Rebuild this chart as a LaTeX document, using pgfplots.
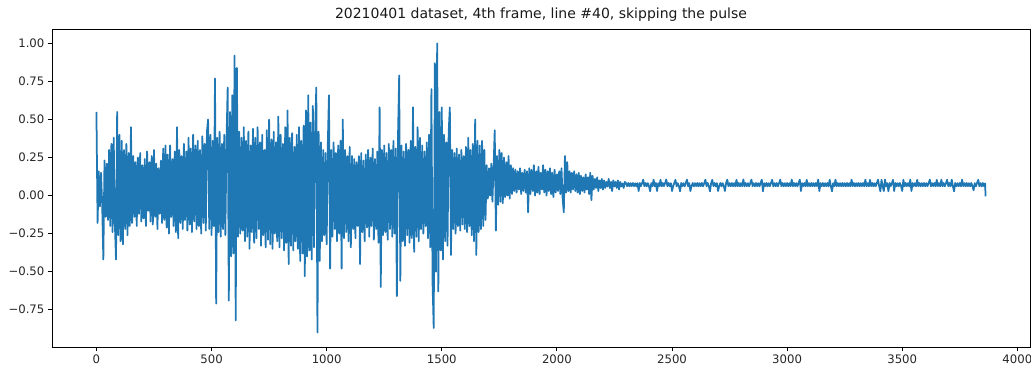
\documentclass[border=0pt]{standalone}
\usepackage{pgfplots}
\pgfplotsset{compat=1.18}
\usepackage{fontspec}
\setmainfont{DejaVu Sans}
\definecolor{tabblue}{HTML}{1F77B4}
\begin{document}
\begin{tikzpicture}
\begin{axis}[
  scale only axis, width=978bp, height=318bp,
  xmin=-193, xmax=4055, ymin=-0.995, ymax=1.095,
  xtick={0,500,1000,1500,2000,2500,3000,3500,4000},
  xticklabels={0,500,1000,1500,2000,2500,3000,3500,4000},
  ytick={-0.75,-0.5,-0.25,0,0.25,0.5,0.75,1},
  yticklabels={−0.75,−0.50,−0.25,0.00,0.25,0.50,0.75,1.00},
  tick align=outside, tick pos=left, major tick length=4.1bp,
  axis line style={line width=0.94bp},
  tick style={line width=0.94bp, black},
  ticklabel style={font=\fontsize{11.7bp}{14bp}\selectfont, text=black!85},
  title={20210401 dataset, 4th frame, line \#40, skipping the pulse},
  title style={font=\fontsize{14bp}{16bp}\selectfont, inner sep=0pt, text=black!90, yshift=1bp},
]
\addplot[color=tabblue, line width=1.75bp, line join=round] table {
0 0.55
5 -0.18
10 0.16
15 -0.07
20 0.15
25 -0.06
30 -0.42
35 0.23
40 -0.14
45 0.21
50 -0.16
55 0.30
60 -0.20
65 0.34
70 -0.24
75 0.38
80 -0.18
85 -0.42
90 0.55
95 -0.26
100 0.40
105 -0.30
110 0.36
115 -0.32
120 0.30
125 -0.22
130 0.34
135 -0.26
140 0.28
145 -0.20
150 0.45
155 -0.18
160 0.26
165 -0.14
170 0.22
175 -0.20
180 0.25
185 -0.12
190 0.28
195 -0.17
200 0.20
205 -0.15
210 0.24
215 -0.20
220 0.29
225 -0.10
230 0.22
235 -0.17
240 0.26
245 -0.19
250 0.30
255 -0.14
260 0.21
265 -0.22
270 0.18
275 -0.12
280 0.23
285 -0.18
290 0.31
295 -0.16
300 0.33
305 -0.21
310 0.27
315 -0.25
320 0.33
325 -0.14
330 0.24
335 -0.20
340 0.29
345 -0.24
350 0.45
355 -0.28
360 0.30
365 -0.18
370 0.26
375 -0.22
380 0.34
385 -0.16
390 0.29
395 -0.23
400 0.38
405 -0.19
410 0.31
415 -0.24
420 0.40
425 -0.17
430 0.33
435 -0.22
440 0.36
445 -0.20
450 0.30
455 -0.25
460 0.39
465 -0.18
470 0.34
475 -0.23
480 0.42
485 0.50
490 -0.22
495 0.40
500 -0.26
505 0.36
510 -0.20
515 0.77
520 -0.71
525 0.38
530 -0.24
535 0.42
540 -0.27
545 0.34
550 -0.22
555 0.40
560 -0.26
565 0.36
570 0.71
575 -0.69
580 0.55
585 -0.40
590 0.66
595 -0.38
600 0.92
605 -0.82
610 0.84
615 -0.27
620 0.42
625 -0.25
630 0.38
635 -0.23
640 0.45
645 -0.30
650 0.36
655 -0.27
660 0.42
665 -0.35
670 0.33
675 -0.24
680 0.44
685 -0.31
690 0.38
695 -0.28
700 0.45
705 -0.22
710 0.35
715 -0.33
720 0.40
725 -0.26
730 0.30
735 -0.34
740 0.43
745 -0.29
750 0.50
755 -0.32
760 0.37
765 -0.35
770 0.42
775 -0.25
780 0.35
785 -0.30
790 0.52
795 -0.34
800 0.40
805 -0.28
810 0.34
815 -0.36
820 0.45
825 -0.31
830 0.56
835 -0.45
840 0.38
845 -0.33
850 0.41
855 -0.36
860 0.32
865 -0.30
870 0.40
875 -0.35
880 0.45
885 -0.43
890 0.36
895 -0.38
900 0.46
905 -0.53
910 0.56
915 -0.40
920 0.66
925 -0.36
930 0.48
935 -0.42
940 0.59
945 -0.34
950 0.44
955 0.71
960 -0.90
965 0.42
970 -0.43
975 0.35
980 -0.30
985 0.30
990 -0.26
995 0.28
1000 -0.32
1005 0.34
1010 0.66
1015 -0.48
1020 0.30
1025 -0.27
1030 0.35
1035 -0.22
1040 0.28
1045 -0.30
1050 0.33
1055 -0.25
1060 0.36
1065 -0.48
1070 0.50
1075 -0.28
1080 0.30
1085 -0.24
1090 0.26
1095 -0.30
1100 0.32
1105 -0.34
1110 0.26
1115 -0.22
1120 0.24
1125 -0.28
1130 0.22
1135 -0.20
1140 0.26
1145 -0.45
1150 0.28
1155 -0.24
1160 0.23
1165 -0.30
1170 0.27
1175 -0.21
1180 0.30
1185 -0.27
1190 0.25
1195 -0.20
1200 0.31
1205 -0.29
1210 0.24
1215 -0.22
1220 0.29
1225 -0.31
1230 0.58
1235 -0.60
1240 0.30
1245 -0.26
1250 0.33
1255 -0.24
1260 0.28
1265 -0.29
1270 0.34
1275 -0.22
1280 0.30
1285 -0.27
1290 0.36
1295 -0.25
1300 0.31
1305 -0.66
1310 0.40
1315 0.79
1320 -0.56
1325 0.33
1330 -0.30
1335 0.29
1340 -0.33
1345 0.34
1350 -0.26
1355 0.30
1360 -0.31
1365 0.36
1370 -0.28
1375 0.58
1380 -0.37
1385 0.32
1390 -0.27
1395 0.45
1400 -0.30
1405 0.38
1410 -0.22
1415 0.33
1420 -0.25
1425 0.29
1430 -0.20
1435 0.35
1440 -0.28
1445 0.40
1450 -0.34
1455 0.70
1460 -0.58
1465 -0.87
1470 0.87
1475 -0.50
1480 1.00
1485 -0.63
1490 0.55
1495 -0.36
1500 0.58
1505 -0.42
1510 0.40
1515 -0.30
1520 0.35
1525 -0.33
1530 0.42
1535 0.58
1540 -0.39
1545 0.30
1550 -0.22
1555 0.28
1560 -0.25
1565 0.31
1570 -0.20
1575 0.27
1580 -0.23
1585 0.30
1590 -0.19
1595 0.26
1600 -0.22
1605 0.32
1610 -0.24
1615 0.38
1620 -0.20
1625 0.30
1630 -0.26
1635 0.34
1640 -0.30
1645 0.50
1650 -0.39
1655 0.36
1660 -0.24
1665 0.33
1670 -0.22
1675 0.36
1680 -0.20
1685 0.30
1690 -0.16
1695 0.20
1700 -0.02
1705 0.18
1710 0.00
1715 0.21
1720 -0.04
1725 0.19
1730 0.43
1735 -0.23
1740 0.26
1745 -0.06
1750 0.30
1755 -0.04
1760 0.28
1765 -0.05
1770 0.25
1775 -0.01
1780 0.22
1785 0.00
1790 0.26
1795 -0.02
1800 0.20
1805 0.01
1810 0.18
1815 0.03
1820 0.17
1825 0.02
1830 0.16
1835 0.04
1840 0.18
1845 0.01
1850 0.15
1855 0.03
1860 0.17
1865 0.02
1870 0.16
1875 -0.11
1880 0.18
1885 0.01
1890 0.17
1895 0.03
1900 0.20
1905 0.00
1910 0.16
1915 0.02
1920 0.19
1925 0.01
1930 0.15
1935 0.04
1940 0.20
1945 0.02
1950 0.17
1955 0.00
1960 0.16
1965 0.03
1970 0.18
1975 0.01
1980 0.15
1985 -0.01
1990 0.17
1995 0.02
2000 0.14
2005 0.03
2010 0.16
2015 0.01
2020 0.18
2025 -0.02
2030 -0.11
2035 0.26
2040 0.02
2045 0.22
2050 0.03
2055 0.16
2060 0.02
2065 0.15
2070 0.04
2075 0.16
2080 0.03
2085 0.14
2090 0.02
2095 0.15
2100 0.01
2105 0.13
2110 0.03
2115 0.12
2120 0.02
2125 0.14
2130 0.04
2135 0.12
2140 0.01
2145 0.15
2150 -0.03
2155 0.13
2160 0.04
2165 0.11
2170 0.05
2175 0.12
2180 0.03
2185 0.10
2190 0.05
2195 0.11
2200 0.04
2205 0.10
2210 0.05
2215 0.09
2220 0.06
2225 0.11
2230 0.05
2235 0.09
2240 0.03
2245 0.10
2250 0.06
2255 0.09
2260 0.05
2265 0.10
2270 0.04
2275 0.09
2280 0.06
2285 0.08
2290 0.05
2295 0.09
2300 0.082
2305 0.062
2310 0.083
2315 0.061
2320 0.082
2325 0.062
2330 0.083
2335 0.062
2340 0.081
2345 0.061
2350 0.082
2355 0.030
2360 0.083
2365 0.062
2370 0.082
2375 0.105
2380 0.062
2385 0.083
2390 0.061
2395 0.082
2400 0.062
2405 0.028
2410 0.082
2415 0.062
2420 0.105
2425 0.061
2430 0.083
2435 0.030
2440 0.082
2445 0.062
2450 0.104
2455 0.061
2460 0.083
2465 0.062
2470 0.082
2475 0.106
2480 0.062
2485 0.083
2490 0.061
2495 0.082
2500 0.030
2505 0.062
2510 0.083
2515 0.104
2520 0.062
2525 0.082
2530 0.061
2535 0.028
2540 0.083
2545 0.062
2550 0.082
2555 0.061
2560 0.083
2565 0.105
2570 0.062
2575 0.082
2580 0.030
2585 0.062
2590 0.083
2595 0.061
2600 0.082
2605 0.062
2610 0.083
2615 0.061
2620 0.082
2625 0.062
2630 0.083
2635 0.061
2640 0.082
2645 0.105
2650 0.062
2655 0.083
2660 0.061
2665 0.028
2670 0.082
2675 0.104
2680 0.062
2685 0.083
2690 0.061
2695 0.082
2700 0.030
2705 0.062
2710 0.083
2715 0.061
2720 0.082
2725 0.062
2730 0.030
2735 0.083
2740 0.105
2745 0.062
2750 0.082
2755 0.061
2760 0.083
2765 0.062
2770 0.082
2775 0.061
2780 0.104
2785 0.062
2790 0.083
2795 0.061
2800 0.082
2805 0.062
2810 0.106
2815 0.061
2820 0.083
2825 0.062
2830 0.082
2835 0.061
2840 0.083
2845 0.105
2850 0.062
2855 0.082
2860 0.061
2865 0.083
2870 0.062
2875 0.082
2880 0.061
2885 0.083
2890 0.105
2895 0.028
2900 0.082
2905 0.062
2910 0.083
2915 0.061
2920 0.082
2925 0.062
2930 0.083
2935 0.104
2940 0.061
2945 0.082
2950 0.062
2955 0.083
2960 0.061
2965 0.082
2970 0.105
2975 0.062
2980 0.083
2985 0.061
2990 0.082
2995 0.062
3000 0.083
3005 0.061
3010 0.082
3015 0.062
3020 0.105
3025 0.061
3030 0.083
3035 0.062
3040 0.082
3045 0.061
3050 0.083
3055 0.105
3060 0.030
3065 0.082
3070 0.062
3075 0.083
3080 0.061
3085 0.104
3090 0.062
3095 0.082
3100 0.061
3105 0.083
3110 0.062
3115 0.082
3120 0.061
3125 0.083
3130 0.062
3135 0.105
3140 0.030
3145 0.082
3150 0.062
3155 0.083
3160 0.061
3165 0.082
3170 0.062
3175 0.083
3180 0.061
3185 0.104
3190 0.062
3195 0.028
3200 0.082
3205 0.062
3210 0.105
3215 0.061
3220 0.083
3225 0.062
3230 0.082
3235 0.061
3240 0.083
3245 0.062
3250 0.082
3255 0.061
3260 0.083
3265 0.062
3270 0.082
3275 0.061
3280 0.105
3285 0.062
3290 0.083
3295 0.061
3300 0.082
3305 0.062
3310 0.083
3315 0.061
3320 0.082
3325 0.062
3330 0.083
3335 0.061
3340 0.105
3345 0.062
3350 0.082
3355 0.061
3360 0.104
3365 0.062
3370 0.083
3375 0.061
3380 0.082
3385 0.062
3390 0.083
3395 0.105
3400 0.061
3405 0.028
3410 0.104
3415 0.062
3420 0.030
3425 0.105
3430 0.061
3435 0.082
3440 0.028
3445 0.083
3450 0.062
3455 0.082
3460 0.104
3465 0.030
3470 0.083
3475 0.062
3480 0.082
3485 0.061
3490 0.083
3495 0.062
3500 0.030
3505 0.104
3510 0.061
3515 0.083
3520 0.062
3525 0.082
3530 0.061
3535 0.105
3540 0.030
3545 0.083
3550 0.062
3555 0.082
3560 0.061
3565 0.104
3570 0.062
3575 0.083
3580 0.061
3585 0.082
3590 0.062
3595 0.083
3600 0.061
3605 0.082
3610 0.062
3615 0.083
3620 0.105
3625 0.061
3630 0.082
3635 0.062
3640 0.083
3645 0.061
3650 0.104
3655 0.062
3660 0.082
3665 0.061
3670 0.105
3675 0.062
3680 0.083
3685 0.061
3690 0.082
3695 0.104
3700 0.062
3705 0.083
3710 0.061
3715 0.105
3720 0.062
3725 0.028
3730 0.083
3735 0.061
3740 0.082
3745 0.062
3750 0.083
3755 0.061
3760 0.105
3765 0.062
3770 0.082
3775 0.061
3780 0.083
3785 0.062
3790 0.082
3795 0.061
3800 0.083
3805 0.062
3810 0.035
3815 0.082
3820 0.061
3825 0.083
3830 0.104
3835 0.062
3840 0.082
3845 0.061
3850 0.083
3855 0.062
3860 0.080
3862 -0.005
};
\end{axis}
\pgfresetboundingbox
\path ([shift={(-52bp,-19bp)}]current axis.south west) rectangle ([shift={(1bp,29bp)}]current axis.north east);
\end{tikzpicture}
\end{document}
